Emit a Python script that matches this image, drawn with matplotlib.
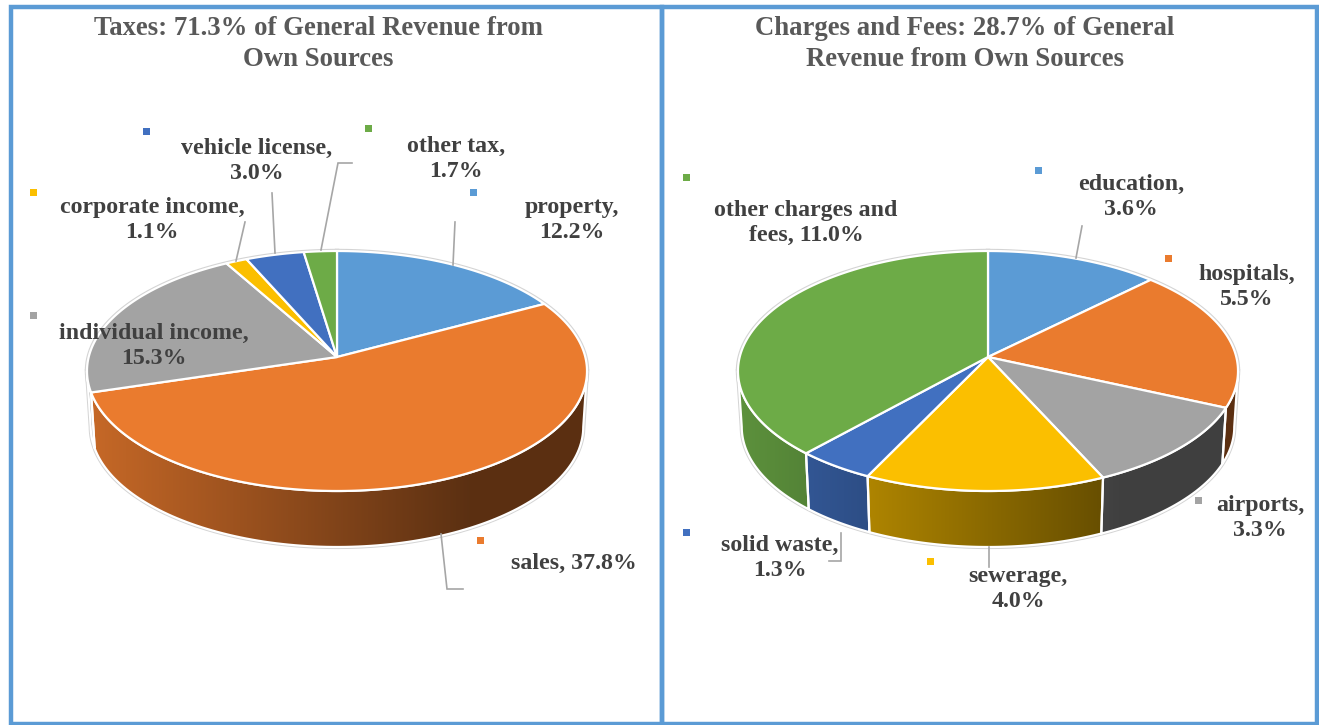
import numpy as np
import matplotlib
matplotlib.use('Agg')
import matplotlib.pyplot as plt
from matplotlib.patches import Polygon, Rectangle

plt.rcParams['font.family'] = ['Liberation Serif', 'DejaVu Serif']

tax_names = ['property', 'sales', 'individual income', 'corporate income', 'vehicle license', 'other tax']
tax_values = [12.2, 37.8, 15.3, 1.1, 3.0, 1.7]
fee_names = ['education', 'hospitals', 'airports', 'sewerage', 'solid waste', 'other charges and fees']
fee_values = [3.6, 5.5, 3.3, 4.0, 1.3, 11.0]
slice_colors = ['#5b9bd5', '#ea7b2e', '#a3a3a3', '#fbbf00', '#4170c0', '#6dab47']

tax_title = 'Taxes: 71.3% of General Revenue from\nOwn Sources'
fee_title = 'Charges and Fees: 28.7% of General\nRevenue from Own Sources'

tax_labels = ['property,\n12.2%', 'sales, 37.8%', 'individual income,\n15.3%',
              'corporate income,\n1.1%', 'vehicle license,\n3.0%', 'other tax,\n1.7%']
fee_labels = ['education,\n3.6%', 'hospitals,\n5.5%', 'airports,\n3.3%',
              'sewerage,\n4.0%', 'solid waste,\n1.3%', 'other charges and\nfees, 11.0%']

# layout, in pixels of the picture
tax_label_pos = [(572, 220), (574, 563), (154, 346), (152, 220), (257, 161), (456, 159)]
fee_label_pos = [(1131, 197), (1247, 287), (1260, 518), (1018, 589), (780, 558), (806, 223)]
tax_key_pos = [(473, 192), (480, 540), (33, 315), (33, 192), (146, 131), (368, 128)]
fee_key_pos = [(1038, 170), (1168, 258), (1198, 500), (930, 561), (686, 532), (686, 177)]
leaders = [
    [(453, 265), (455, 222)],
    [(441, 534), (447, 589), (463, 589)],
    [(236, 261), (245, 222)],
    [(275, 253), (272, 193)],
    [(321, 250), (338, 163), (352, 163)],
    [(1076, 258), (1082, 226)],
    [(841, 533), (841, 561), (829, 561)],
    [(989, 547), (989, 567)],
]

CY = 357
TILT = 0.1167
SLOPE = -76.7
RX = 248.3
DEPTH = 56
SHRINK = 0.985


def rim(cx, th, depth=0, shrink=1.0):
    # perspective view of the disc, th clockwise from 12 o'clock
    x = np.sin(th)
    y = np.cos(th)
    w = TILT * y + 1
    return cx + shrink * RX * x / w, (SLOPE * y + CY) / w + depth


def wall_color(color, u):
    f = np.clip(0.85 - 0.6 * u, 0.39, 1)
    return np.array(matplotlib.colors.to_rgb(color)) * f


def draw_pie(ax, cx, values):
    edges = np.cumsum([0] + list(values)) / sum(values) * 2 * np.pi
    left = cx - 250
    limit = np.arccos(-TILT)

    # light outline round the whole cake
    th = np.linspace(0, 2 * np.pi, 500)
    ax.plot(*rim(cx, th), color='#d4d4d4', lw=3.2, zorder=1)
    th = np.linspace(limit, 2 * np.pi - limit, 300)
    bx, by = rim(cx, th, DEPTH, SHRINK)
    tx, ty = rim(cx, th)
    ax.plot(np.r_[tx[0], bx, tx[-1]], np.r_[ty[0], by, ty[-1]], color='#d4d4d4', lw=3, zorder=1)

    for i, color in enumerate(slice_colors):
        a, b = edges[i], edges[i + 1]
        # side wall, only the part facing the viewer
        lo, hi = max(a, limit), min(b, 2 * np.pi - limit)
        if hi > lo:
            th = np.linspace(lo, hi, 120)
            x1, y1 = rim(cx, th)
            x2, y2 = rim(cx, th, DEPTH, SHRINK)
            pts = np.c_[np.r_[x1, x2[::-1]], np.r_[y1, y2[::-1]]]
            us = np.linspace(0, 1, 256)
            grad = np.array([[wall_color(color, u) for u in us]])
            im = ax.imshow(grad, extent=(left, left + 500, 600, 340), aspect='auto', zorder=2)
            poly = Polygon(pts, closed=True, facecolor='none', edgecolor='white', lw=1.6, zorder=3)
            ax.add_patch(poly)
            clip = Polygon(pts, closed=True, transform=ax.transData)
            im.set_clip_path(clip)

        # top face
        th = np.linspace(a, b, 200)
        x, y = rim(cx, th)
        ax.fill(np.r_[cx, x], np.r_[CY, y], color=color, ec='white', lw=1.6, zorder=4, joinstyle='round')


fig = plt.figure(figsize=(13.19, 7.25), dpi=100)
ax = fig.add_axes([0, 0, 1, 1])
ax.set_xlim(0, 1319)
ax.set_ylim(725, 0)
ax.axis('off')

draw_pie(ax, 337, tax_values)
draw_pie(ax, 988, fee_values)
ax.set_xlim(0, 1319)
ax.set_ylim(725, 0)

for line in leaders:
    xs, ys = zip(*line)
    ax.plot(xs, ys, color='#a6a6a6', lw=1.2, zorder=5, solid_joinstyle='miter')

for labels, positions in [(tax_labels, tax_label_pos), (fee_labels, fee_label_pos)]:
    for s, (x, y) in zip(labels, positions):
        ax.text(x, y, s, ha='center', va='center', fontsize=17.2, fontweight='bold',
                color='#404040', linespacing=1.3, zorder=6)

for positions in [tax_key_pos, fee_key_pos]:
    for color, (x, y) in zip(slice_colors, positions):
        ax.add_patch(Rectangle((x - 3.5, y - 3.5), 7, 7, color=color, lw=0, zorder=6))

ax.text(318, 44, tax_title, ha='center', va='center', fontsize=19.3, fontweight='bold',
        color='#595959', linespacing=1.32)
ax.text(965, 44, fee_title, ha='center', va='center', fontsize=19.3, fontweight='bold',
        color='#595959', linespacing=1.32)

# blue frames of the two panels
frame = '#5b9bd5'
for x0, x1 in [(10.5, 662), (662, 1316.5)]:
    ax.add_patch(Rectangle((x0, 7), x1 - x0, 717, fc='none', ec=frame, lw=3.2, zorder=7, clip_on=False))

fig.savefig('out.png', dpi=100)
plt.close(fig)
